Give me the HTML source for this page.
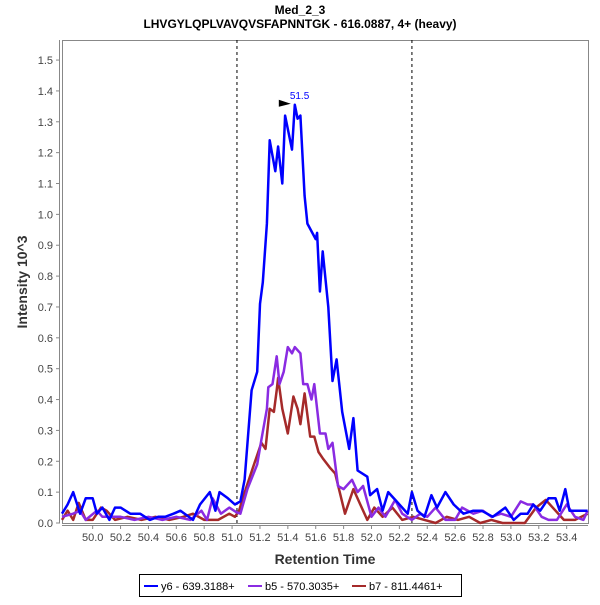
<!DOCTYPE html>
<html><head><meta charset="utf-8"><style>
body{margin:0;background:#fff;font-family:"Liberation Sans",sans-serif}
</style></head><body>
<svg id="c" width="600" height="600" xmlns="http://www.w3.org/2000/svg">
<rect width="600" height="600" fill="#fff"/>
<text x="300" y="14" text-anchor="middle" font-size="12" font-weight="bold" font-family="Liberation Sans, sans-serif">Med_2_3</text>
<text x="300" y="28" text-anchor="middle" font-size="12" font-weight="bold" font-family="Liberation Sans, sans-serif">LHVGYLQPLVAVQVSFAPNNTGK - 616.0887, 4+ (heavy)</text>
<text transform="translate(27,282) rotate(-90)" text-anchor="middle" font-size="14" font-weight="bold" fill="#333" font-family="Liberation Sans, sans-serif">Intensity 10^3</text>
<text x="325" y="564" text-anchor="middle" font-size="14" font-weight="bold" fill="#333" font-family="Liberation Sans, sans-serif">Retention Time</text>
<g id="axes"></g>
<g id="plot"></g>
<g>
<rect x="139.5" y="574.5" width="322" height="22" fill="#fff" stroke="#000"/>
<line x1="144" y1="586" x2="158" y2="586" stroke="#0000ff" stroke-width="2"/>
<text x="161" y="590" font-size="11" font-family="Liberation Sans, sans-serif">y6 - 639.3188+</text>
<line x1="248" y1="586" x2="262" y2="586" stroke="#8a2be2" stroke-width="2"/>
<text x="265" y="590" font-size="11" font-family="Liberation Sans, sans-serif">b5 - 570.3035+</text>
<line x1="352" y1="586" x2="366" y2="586" stroke="#a52a2a" stroke-width="2"/>
<text x="369" y="590" font-size="11" font-family="Liberation Sans, sans-serif">b7 - 811.4461+</text>
</g>
</svg>
<script>
const xTicks=[50.0,50.2,50.4,50.6,50.8,51.0,51.2,51.4,51.6,51.8,52.0,52.2,52.4,52.6,52.8,53.0,53.2,53.4];
const yTicks=[0.0,0.1,0.2,0.3,0.4,0.5,0.6,0.7,0.8,0.9,1.0,1.1,1.2,1.3,1.4,1.5];
const markerTimes=[51.035,52.29];
const peakTime=51.45, peakValue=1.355, peakLabel="51.5";
const y6Times=[49.78,49.82,49.86,49.91,49.95,50.00,50.03,50.07,50.12,50.16,50.20,50.27,50.34,50.41,50.47,50.52,50.58,50.63,50.72,50.77,50.84,50.88,50.91,50.97,51.02,51.06,51.09,51.14,51.18,51.20,51.22,51.25,51.27,51.31,51.33,51.36,51.38,51.43,51.45,51.47,51.49,51.52,51.54,51.60,51.61,51.63,51.65,51.69,51.72,51.75,51.79,51.84,51.87,51.90,51.97,51.99,52.04,52.08,52.12,52.18,52.26,52.29,52.33,52.38,52.43,52.47,52.53,52.59,52.66,52.73,52.79,52.87,52.96,53.02,53.07,53.12,53.16,53.21,53.27,53.32,53.35,53.39,53.42,53.50,53.55];
const y6Values=[0.03,0.06,0.10,0.03,0.08,0.08,0.03,0.05,0.01,0.05,0.05,0.03,0.03,0.01,0.02,0.02,0.03,0.04,0.01,0.06,0.10,0.04,0.10,0.08,0.06,0.07,0.14,0.43,0.49,0.71,0.78,0.97,1.24,1.14,1.22,1.10,1.32,1.21,1.355,1.31,1.32,1.06,0.97,0.92,0.94,0.75,0.88,0.70,0.46,0.53,0.36,0.24,0.34,0.17,0.15,0.09,0.11,0.04,0.10,0.07,0.03,0.10,0.04,0.02,0.09,0.05,0.10,0.06,0.03,0.04,0.04,0.02,0.05,0.01,0.03,0.03,0.06,0.04,0.08,0.08,0.04,0.11,0.04,0.04,0.04];
const b5Times=[49.78,49.86,49.91,49.95,50.03,50.07,50.12,50.2,50.3,50.4,50.5,50.6,50.7,50.78,50.82,50.86,50.92,50.98,51.03,51.06,51.11,51.18,51.21,51.25,51.26,51.29,51.32,51.34,51.37,51.40,51.43,51.45,51.49,51.51,51.54,51.57,51.59,51.63,51.67,51.69,51.72,51.76,51.80,51.86,51.90,51.94,52.0,52.05,52.1,52.17,52.22,52.29,52.35,52.4,52.46,52.53,52.6,52.65,52.73,52.8,52.86,52.93,53.0,53.07,53.12,53.16,53.22,53.27,53.33,53.4,53.46,53.52,53.55];
const b5Values=[0.02,0.03,0.04,0.01,0.04,0.02,0.02,0.02,0.01,0.02,0.01,0.02,0.01,0.04,0.01,0.08,0.03,0.05,0.035,0.03,0.11,0.19,0.27,0.37,0.44,0.45,0.54,0.45,0.49,0.57,0.55,0.57,0.55,0.45,0.45,0.40,0.45,0.29,0.29,0.24,0.26,0.12,0.11,0.14,0.10,0.12,0.02,0.05,0.02,0.075,0.03,0.01,0.03,0.02,0.05,0.01,0.01,0.05,0.03,0.04,0.02,0.03,0.02,0.07,0.06,0.06,0.02,0.01,0.01,0.06,0.02,0.01,0.04];
const b7Times=[49.78,49.82,49.86,49.9,49.95,50.0,50.06,50.1,50.16,50.25,50.35,50.45,50.55,50.65,50.72,50.8,50.9,50.98,51.02,51.05,51.08,51.15,51.21,51.24,51.27,51.3,51.32,51.33,51.36,51.38,51.4,51.44,51.47,51.49,51.52,51.56,51.59,51.62,51.65,51.7,51.74,51.81,51.87,51.92,51.97,52.02,52.08,52.15,52.22,52.3,52.38,52.46,52.54,52.62,52.7,52.78,52.86,52.94,53.02,53.1,53.18,53.25,53.3,53.38,53.46,53.55];
const b7Values=[0.01,0.04,0.01,0.065,0.01,0.01,0.05,0.04,0.01,0.02,0.01,0.02,0.01,0.02,0.03,0.01,0.01,0.03,0.02,0.04,0.085,0.18,0.26,0.24,0.37,0.36,0.43,0.47,0.37,0.33,0.29,0.41,0.37,0.32,0.42,0.28,0.28,0.23,0.21,0.18,0.16,0.03,0.11,0.06,0.01,0.05,0.02,0.05,0.01,0.02,0.01,0.0,0.02,0.01,0.02,0.0,0.01,0.0,0.0,0.0,0.05,0.075,0.05,0.01,0.01,0.03];

const NS="http://www.w3.org/2000/svg";
const L=62,R=588,T=40,B=523;
const xMin=49.78,xMax=53.553,yMin=0,yMax=1.565;
const sx=v=>L+(v-xMin)/(xMax-xMin)*(R-L);
const sy=v=>B-(v-yMin)/(yMax-yMin)*(B-T);
function mk(tag,attrs,parent){const e=document.createElementNS(NS,tag);for(const k in attrs)e.setAttribute(k,attrs[k]);parent.appendChild(e);return e;}
const axes=document.getElementById('axes'),plot=document.getElementById('plot');
const frame=mk('rect',{x:L+0.5,y:T+0.5,width:R-L,height:B-T,fill:'none',stroke:'#888'},axes);


xTicks.forEach(t=>{const x=sx(t);
 const ln=mk('line',{x1:x,y1:B+2,x2:x,y2:B+6,stroke:'#888'},axes);
 
 
 const tx=mk('text',{x:x,y:B+18,'text-anchor':'middle','font-size':'11',fill:'#444','font-family':'Liberation Sans, sans-serif'},axes);tx.textContent=t.toFixed(1);
 
 
});
mk('line',{x1:L,y1:B+2.5,x2:R,y2:B+2.5,stroke:'#888'},axes);
yTicks.forEach(t=>{const y=sy(t);
 const ln=mk('line',{x1:L-6,y1:y,x2:L-2,y2:y,stroke:'#888'},axes);
 
 
 const tx=mk('text',{x:L-9,y:y+4,'text-anchor':'end','font-size':'11',fill:'#444','font-family':'Liberation Sans, sans-serif'},axes);tx.textContent=t.toFixed(1);
 
 
});
mk('line',{x1:L-2.5,y1:T,x2:L-2.5,y2:B,stroke:'#888'},axes);
markerTimes.forEach(t=>{const l=mk('line',{x1:sx(t),y1:T,x2:sx(t),y2:B,stroke:'#000','stroke-dasharray':'3,3'},plot);
 
 
});
function series(ts,vs,color,name){const n=Math.min(ts.length,vs.length);let d='';
 for(let i=0;i<n;i++)d+=(i?'L':'M')+sx(ts[i]).toFixed(1)+','+sy(vs[i]).toFixed(1);
 const p=mk('path',{d:d,fill:'none',stroke:color,'stroke-width':'2.5','stroke-linejoin':'round'},plot);
 
 
}
series(b7Times,b7Values,'#a52a2a','series-b7');
series(b5Times,b5Values,'#8a2be2','series-b5');
series(y6Times,y6Values,'#0000ff','series-y6');
const px=sx(peakTime),py=sy(peakValue);
const ar=mk('path',{d:`M${px-16},${py-5} L${px-4},${py-1} L${px-16},${py+2} Z`,fill:'#000'},plot);


const pl=mk('text',{x:px-5,y:py-6,'font-size':'10',fill:'#0000ff','font-family':'Liberation Sans, sans-serif'},plot);pl.textContent=peakLabel;


</script>
</body></html>
